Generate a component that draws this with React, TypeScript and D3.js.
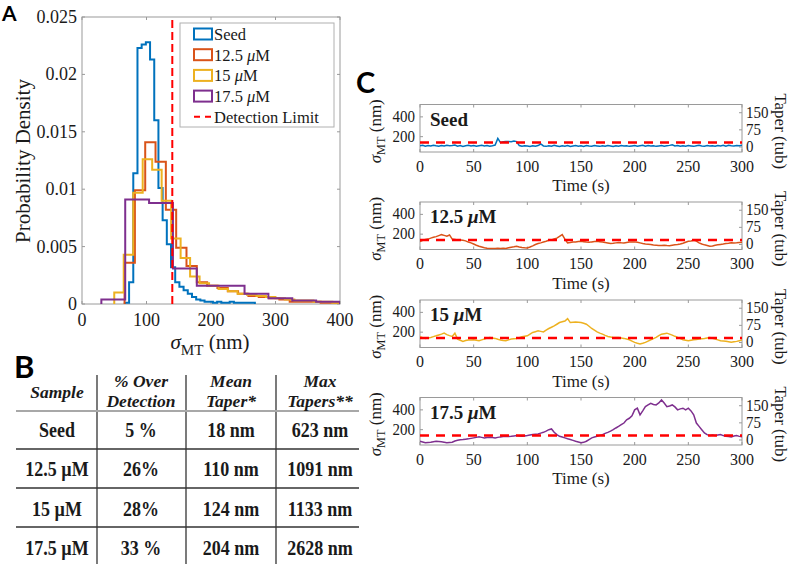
import * as d3 from 'd3';
import React from 'react';

// ---------- panel A: sigma_MT histograms (pdf, stairs) ----------
const detectionLimit = 140;
const histNames = ['Seed', '12.5', '15', '17.5'];
const histColors = ['#0072BD', '#D95319', '#EDB120', '#7E2F8E'];
const histStart = [66.5, 66, 50, 30];
const histWidth = [6.5, 16, 14.7, 37];
const seedPdf = [0.0001, 0.0019, 0.0114, 0.0223, 0.0226, 0.0228, 0.0213, 0.016, 0.0101, 0.0073, 0.0052,
  0.0032, 0.0019, 0.0015, 0.0012, 0.0009, 0.0006, 0.0004, 0.0003, 0.0002, 0.0002, 0.0001, 0.0002, 0.0001,
  0.0001, 0.0002, 0.0001, 0.0001, 0.0001, 0.0001, 0.0001];
const pdf125 = [0.0036, 0.0099, 0.0141, 0.0124, 0.0082, 0.0049, 0.0033, 0.0019, 0.0016, 0.0014, 0.0011,
  0.0009, 0.0007, 0.0006, 0.0005, 0.0004, 0.0002, 0.0002, 0.0002, 0.0001, 0.0001];
const pdf15 = [0.001, 0.0043, 0.0097, 0.0126, 0.0117, 0.009, 0.0057, 0.004, 0.0024, 0.0018, 0.0016, 0.0013,
  0.0011, 0.0009, 0.0008, 0.0007, 0.0006, 0.0005, 0.0004, 0.0003, 0.0003, 0.0002, 0.0002, 0.0001];
const pdf175 = [0.0004, 0.0091, 0.0088, 0.0031, 0.0016, 0.0016, 0.0009, 0.0005, 0.0003, 0.0002];
const histPdf = [seedPdf, pdf125, pdf15, pdf175];
const xTicksA = [0, 100, 200, 300, 400];
const yTicksA = [0, 0.005, 0.01, 0.015, 0.02, 0.025];
const yTickLabelsA = ['0', '0.005', '0.01', '0.015', '0.02', '0.025'];

// ---------- panel B: table ----------
const tableHead = [['Sample'], ['% Over', 'Detection'], ['Mean', 'Taper*'], ['Max', 'Tapers**']];
const tableSample = ['Seed', '12.5 µM', '15 µM', '17.5 µM'];
const overDetection = ['5 %', '26%', '28%', '33 %'];
const meanTaper = ['18 nm', '110 nm', '124 nm', '204 nm'];
const maxTapers = ['623 nm', '1091 nm', '1133 nm', '2628 nm'];

// ---------- panel C: sigma_MT traces, one value every 2.5 s ----------
const traceStep = 2.5;
const seedTrace = [108, 112, 104, 110, 106, 114, 108, 104, 110, 106,
  112, 108, 110, 116, 104, 110, 102, 108, 112, 106,
  110, 104, 108, 112, 106, 110, 104, 108, 115, 182,
  140, 148, 150, 152, 148, 155, 150, 110, 104, 108,
  106, 100, 108, 104, 110, 126, 106, 102, 108, 104,
  112, 106, 100, 108, 104, 110, 100, 106, 110, 104,
  108, 102, 110, 106, 104, 110, 106, 102, 108, 104,
  110, 106, 100, 108, 104, 110, 106, 108, 102, 106,
  110, 104, 108, 112, 104, 110, 106, 108, 102, 106,
  110, 104, 108, 112, 118, 106, 110, 104, 108, 104,
  110, 106, 102, 108, 112, 106, 104, 110, 106, 108,
  104, 110, 106, 114, 104, 112, 108, 106, 110, 108, 114];
const trace125 = [125, 138, 145, 150, 160, 168, 175, 185, 195, 188,
  180, 192, 150, 145, 140, 142, 138, 132, 120, 112,
  100, 88, 78, 70, 62, 58, 55, 56, 54, 57,
  55, 58, 56, 62, 68, 72, 78, 70, 65, 62,
  61, 70, 82, 95, 105, 112, 120, 128, 138, 142,
  152, 160, 178, 195, 150, 112, 115, 120, 122, 125,
  128, 124, 120, 118, 122, 125, 128, 124, 120, 115,
  110, 105, 108, 112, 115, 112, 110, 116, 120, 122,
  122, 118, 112, 105, 100, 98, 95, 90, 88, 86,
  85, 88, 85, 84, 88, 92, 95, 100, 108, 118,
  128, 132, 138, 130, 112, 100, 92, 85, 78, 80,
  88, 92, 96, 100, 105, 108, 112, 110, 112, 115, 118];
const trace15 = [153, 145, 137, 142, 147, 155, 163, 172, 180, 190,
  175, 165, 157, 190, 130, 118, 107, 115, 120, 122,
  123, 118, 113, 122, 130, 140, 147, 142, 137, 128,
  120, 116, 113, 122, 130, 134, 137, 145, 153, 158,
  163, 180, 197, 205, 213, 208, 203, 220, 237, 250,
  263, 280, 297, 305, 313, 337, 297, 300, 303, 300,
  297, 290, 280, 260, 237, 220, 203, 190, 180, 168,
  157, 152, 147, 147, 147, 142, 137, 130, 123, 110,
  97, 88, 80, 88, 97, 110, 123, 135, 147, 165,
  180, 185, 190, 180, 170, 158, 147, 135, 123, 118,
  113, 118, 123, 126, 130, 134, 137, 142, 147, 138,
  130, 122, 113, 110, 107, 102, 97, 102, 107, 114, 120];
const trace175 = [83, 75, 67, 70, 73, 78, 83, 80, 77, 72,
  67, 70, 73, 85, 93, 97, 100, 104, 107, 112,
  117, 122, 127, 122, 117, 120, 123, 120, 117, 122,
  127, 130, 133, 132, 133, 137, 140, 136, 133, 137,
  140, 145, 150, 154, 157, 165, 173, 185, 200, 207,
  173, 150, 133, 125, 117, 108, 100, 92, 83, 75,
  67, 72, 83, 100, 117, 125, 133, 142, 150, 162,
  173, 185, 200, 217, 233, 250, 267, 300, 315, 340,
  400, 417, 350, 390, 433, 450, 467, 455, 450, 470,
  500, 470, 433, 440, 450, 430, 400, 410, 417, 400,
  417, 390, 350, 267, 233, 200, 167, 150, 140, 145,
  140, 145, 150, 140, 133, 130, 127, 135, 140, 132, 127];
const traces = [seedTrace, trace125, trace15, trace175];
const traceLabels = ['Seed', '12.5', '15', '17.5'];
const xTicksC = [0, 50, 100, 150, 200, 250, 300];
const yTicksC = [200, 400];
const rTicksC = [0, 75, 150];

const serif = '"Liberation Serif", "Times New Roman", serif';
const sans = 'Lato, "Open Sans", Arial, sans-serif';
const axisGray = '#9a9a9a';
const ink = '#1a1a1a';

function MuLabel({ num }: { num: string }) {
  if (num === 'Seed') return <>{num}</>;
  return <>{num + ' '}<tspan fontStyle="italic">μ</tspan>M</>;
}

function SigmaLabel({ sub }: { sub: number }) {
  return <>
    <tspan fontStyle="italic">σ</tspan>
    <tspan dy={sub} fontSize="0.72em">MT</tspan>
    <tspan dy={-sub}> (nm)</tspan>
  </>;
}

function PanelA() {
  const x = d3.scaleLinear([0, 400], [82, 340]);
  const y = d3.scaleLinear([0, 0.025], [304, 17]);
  const line = d3.line();
  const stairs = (k: number) => {
    const s = histStart[k], w = histWidth[k], v = histPdf[k];
    const pts: [number, number][] = [[x(s), y(0)]];
    v.forEach((d, i) => { pts.push([x(s + i * w), y(d)], [x(s + (i + 1) * w), y(d)]); });
    pts.push([x(s + v.length * w), y(0)]);
    return line(pts) as string;
  };
  const legendY = (i: number) => 34 + i * 20.7;
  return (
    <g>
      <defs>
        <clipPath id="clipA"><rect x={82} y={17} width={258} height={287} /></clipPath>
      </defs>
      <rect x={82} y={17} width={258} height={287} fill="none" stroke={axisGray} strokeWidth={1} />
      {xTicksA.map(t => (
        <g key={'xa' + t}>
          <line x1={x(t)} x2={x(t)} y1={304} y2={301} stroke={axisGray} />
          <line x1={x(t)} x2={x(t)} y1={17} y2={20} stroke={axisGray} />
          <text x={x(t)} y={326} textAnchor="middle" fontSize={18} fontFamily={serif} fill={ink}>{t}</text>
        </g>
      ))}
      {yTicksA.map((t, i) => (
        <g key={'ya' + t}>
          <line x1={82} x2={85} y1={y(t)} y2={y(t)} stroke={axisGray} />
          <line x1={340} x2={337} y1={y(t)} y2={y(t)} stroke={axisGray} />
          <text x={77} y={y(t) + 6} textAnchor="end" fontSize={18} fontFamily={serif} fill={ink}>{yTickLabelsA[i]}</text>
        </g>
      ))}
      <g clipPath="url(#clipA)">
        {histPdf.map((_, k) => (
          <path key={'h' + k} d={stairs(k)} fill="none" stroke={histColors[k]} strokeWidth={2} />
        ))}
      </g>
      <line x1={x(detectionLimit)} x2={x(detectionLimit)} y1={y(0)} y2={y(0.025)}
        stroke="#ff0000" strokeWidth={2} strokeDasharray="8 4" />
      <text transform="translate(30,161) rotate(-90)" textAnchor="middle" fontSize={21} fontFamily={serif} fill={ink}>
        Probability Density
      </text>
      <text x={210} y={349} textAnchor="middle" fontSize={21} fontFamily={serif} fill={ink}>
        <SigmaLabel sub={6} />
      </text>
      <rect x={180} y={23} width={154} height={104} fill="#fff" stroke="#b0b0b0" strokeWidth={1} />
      {histNames.map((n, i) => (
        <g key={'lg' + n}>
          <rect x={194} y={legendY(i) - 5.5} width={18} height={11} fill="none" stroke={histColors[i]} strokeWidth={2} />
          <text x={214} y={legendY(i) + 6} fontSize={16.5} fontFamily={serif} fill={ink}><MuLabel num={n} /></text>
        </g>
      ))}
      <line x1={194} x2={212} y1={legendY(4)} y2={legendY(4)} stroke="#ff0000" strokeWidth={2} strokeDasharray="6 5" />
      <text x={214} y={legendY(4) + 6} fontSize={16.5} fontFamily={serif} fill={ink}>Detection Limit</text>
    </g>
  );
}

function PanelB() {
  const colX = [57, 141, 231, 320];
  const hLines = [411, 449, 488, 527];
  const rowBase = [437, 476, 516, 555];
  const cols = [tableSample, overDetection, meanTaper, maxTapers];
  const st = (xx: number, yy: number) => `translate(${xx},${yy}) scale(1,1.13)`;
  return (
    <g fontFamily={serif} fill={ink} fontWeight="bold">
      {[97, 186, 276].map(v => <line key={'v' + v} x1={v} x2={v} y1={375} y2={564} stroke="#333" strokeWidth={1.3} />)}
      {hLines.map((h, i) => (
        <line key={'hl' + h} x1={16} x2={359} y1={h} y2={h}
          stroke={i === 0 ? '#a8a8a8' : '#333'} strokeWidth={i === 0 ? 2 : 1.3} />
      ))}
      {tableHead.map((lines, c) => lines.map((t, j) => (
        <text key={'th' + c + j} x={colX[c]} y={lines.length === 1 ? 398 : 387 + j * 20}
          textAnchor="middle" fontSize={17.5} fontStyle="italic">{t}</text>
      )))}
      {cols.map((col, c) => col.map((t, r) => (
        <text key={'td' + c + r} transform={st(colX[c], rowBase[r])} textAnchor="middle" fontSize={18}>{t}</text>
      )))}
    </g>
  );
}

function PanelC() {
  const x = d3.scaleLinear([0, 300], [420, 742]);
  const tops = [104.5, 202, 300, 397.5];
  const h = 47.5;
  const times = traces[0].map((_, i) => i * traceStep);
  const st = (xx: number, yy: number) => `translate(${xx},${yy}) scale(1,1.1)`;
  return (
    <g fontFamily={serif} fill={ink}>
      {tops.map((top, k) => {
        const y = d3.scaleLinear([45, 525], [top + h, top]);
        const yr = d3.scaleLinear([-22, 186], [top + h, top]);
        const line = d3.line<number>().x((_, i) => x(times[i])).y(d => y(d));
        const bottom = top + h;
        return (
          <g key={'c' + k}>
            <defs>
              <clipPath id={'clipC' + k}><rect x={420} y={top} width={322} height={h} /></clipPath>
            </defs>
            <rect x={420} y={top} width={322} height={h} fill="none" stroke={axisGray} />
            {xTicksC.map(t => (
              <g key={'xt' + t}>
                <line x1={x(t)} x2={x(t)} y1={bottom} y2={bottom - 3} stroke={axisGray} />
                <line x1={x(t)} x2={x(t)} y1={top} y2={top + 3} stroke={axisGray} />
                <text transform={st(x(t), bottom + 19.5)} textAnchor="middle" fontSize={16}>{t}</text>
              </g>
            ))}
            {yTicksC.map(t => (
              <g key={'yt' + t}>
                <line x1={420} x2={423} y1={y(t)} y2={y(t)} stroke={axisGray} />
                <text transform={st(415, y(t) + 5)} textAnchor="end" fontSize={15}>{t}</text>
              </g>
            ))}
            {rTicksC.map(t => (
              <g key={'rt' + t}>
                <line x1={742} x2={739} y1={yr(t)} y2={yr(t)} stroke={axisGray} />
                <text transform={st(746, yr(t) + 5)} fontSize={15}>{t}</text>
              </g>
            ))}
            <g clipPath={`url(#clipC${k})`}>
              <path d={line(traces[k]) as string} fill="none" stroke={histColors[k]} strokeWidth={1.5} />
            </g>
            <line x1={420} x2={742} y1={y(detectionLimit)} y2={y(detectionLimit)}
              stroke="#ff0000" strokeWidth={2.5} strokeDasharray="9 7" />
            <text x={430} y={top + 21} fontSize={19} fontWeight="bold"><MuLabel num={traceLabels[k]} /></text>
            <text x={581} y={bottom + 39} textAnchor="middle" fontSize={17}>Time (s)</text>
            <text transform={`translate(381,${top + h / 2 + 3}) rotate(-90)`} textAnchor="middle" fontSize={17}>
              <SigmaLabel sub={4} />
            </text>
            <text transform={`translate(775,${top + h / 2 + 3}) rotate(90)`} textAnchor="middle" fontSize={17}>
              Taper (tub)
            </text>
          </g>
        );
      })}
    </g>
  );
}

export default function App() {
  return (
    <div style={{ position: 'absolute', left: 0, top: 0 }}>
      <svg width={790} height={564} style={{ display: 'block', background: '#fff' }}>
        <PanelA />
        <PanelB />
        <PanelC />
        <text x={2} y={21} fontSize={21} fontWeight="bold" fontFamily={sans} fill="#000">A</text>
        <text x={14} y={378} fontSize={31} fontWeight="bold" fontFamily={sans} fill="#000">B</text>
        <text x={356} y={93} fontSize={29} fontWeight="bold" fontFamily={sans} fill="#000">C</text>
      </svg>
    </div>
  );
}
